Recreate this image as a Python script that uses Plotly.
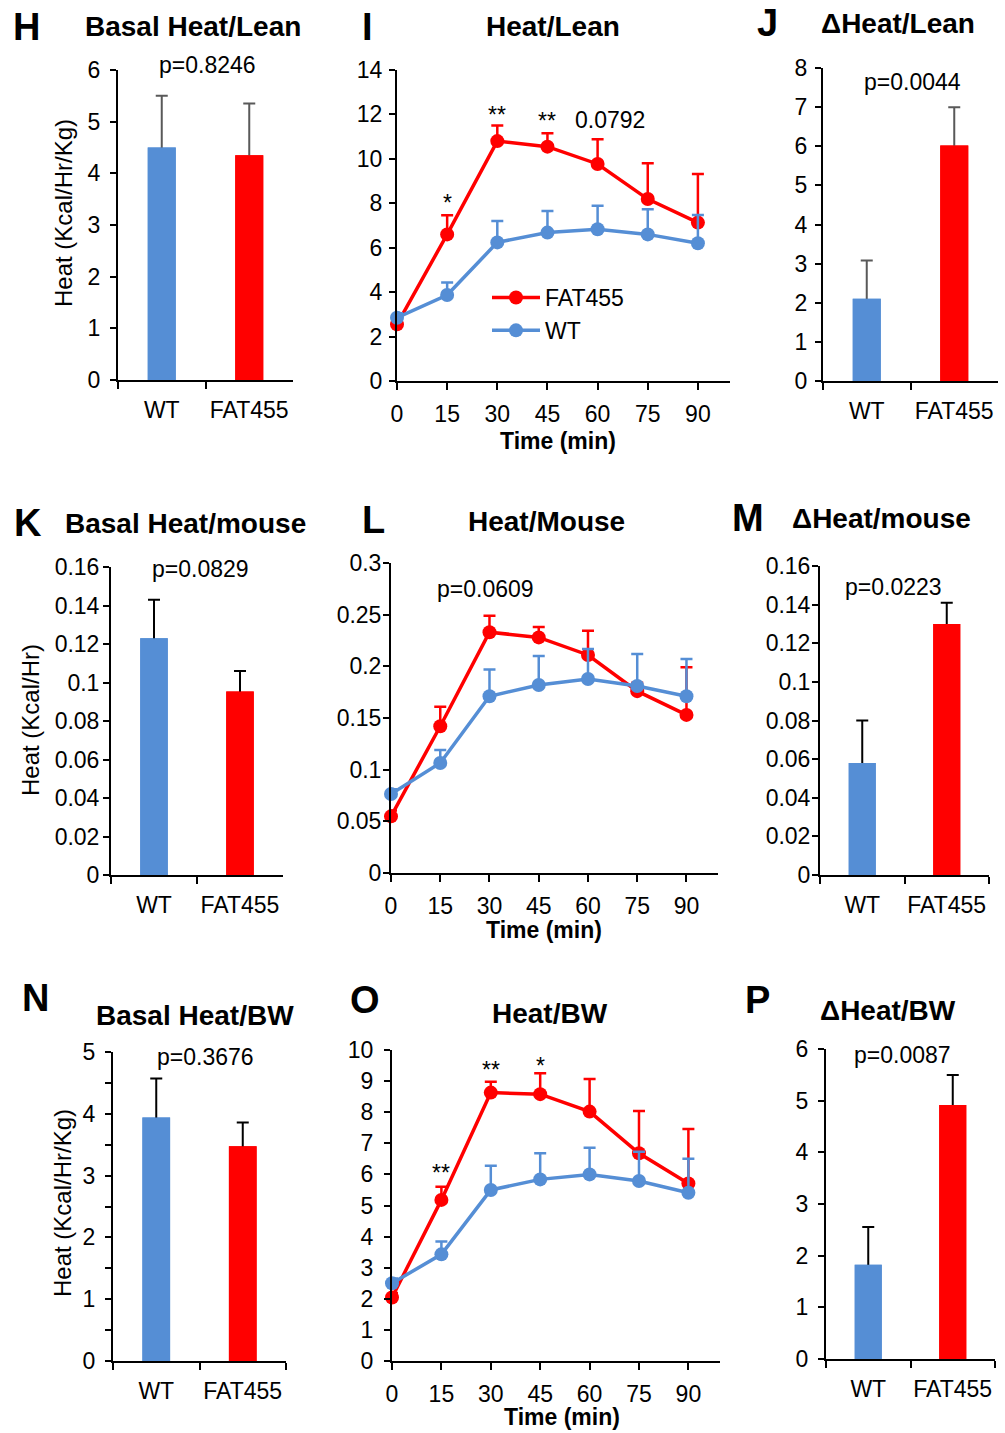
import plotly.graph_objects as go

W, H = 1005, 1433
BLUE = "#558ED5"
RED = "#FF0000"
FONT = "Liberation Sans, Arial, sans-serif"

# ---------------- data ----------------
groups = ["WT", "FAT455"]
times = [0, 15, 30, 45, 60, 75, 90]
time_labels = ["0", "15", "30", "45", "60", "75", "90"]

basal_lean_mean = [4.50, 4.35]
basal_lean_sem = [1.00, 1.00]
delta_lean_mean = [2.10, 6.02]
delta_lean_sem = [0.98, 0.98]
basal_mouse_mean = [0.123, 0.0953]
basal_mouse_sem = [0.020, 0.0107]
delta_mouse_mean = [0.058, 0.130]
delta_mouse_sem = [0.022, 0.011]
basal_bw_mean = [3.94, 3.475]
basal_bw_sem = [0.63, 0.385]
delta_bw_mean = [1.826, 4.916]
delta_bw_sem = [0.73, 0.58]

lean_fat = [2.55, 6.60, 10.80, 10.55, 9.77, 8.19, 7.13]
lean_fat_sem = [0.25, 0.86, 0.70, 0.60, 1.11, 1.61, 2.19]
lean_wt = [2.85, 3.87, 6.24, 6.68, 6.83, 6.60, 6.20]
lean_wt_sem = [0.20, 0.56, 0.96, 0.97, 1.06, 1.13, 1.27]

mouse_fat = [0.0548, 0.142, 0.233, 0.228, 0.211, 0.176, 0.153]
mouse_fat_sem = [0.0058, 0.019, 0.016, 0.010, 0.0235, 0.008, 0.046]
mouse_wt = [0.0765, 0.1065, 0.171, 0.182, 0.1877, 0.181, 0.171]
mouse_wt_sem = [0.0045, 0.0125, 0.026, 0.028, 0.029, 0.031, 0.036]

bw_fat = [2.04, 5.18, 8.63, 8.58, 8.02, 6.68, 5.71]
bw_fat_sem = [0.15, 0.42, 0.35, 0.67, 1.05, 1.36, 1.75]
bw_wt = [2.50, 3.43, 5.50, 5.84, 6.00, 5.79, 5.41]
bw_wt_sem = [0.15, 0.41, 0.78, 0.84, 0.86, 0.94, 1.09]

yt_0_6 = [0, 1, 2, 3, 4, 5, 6]
yl_0_6 = ["0", "1", "2", "3", "4", "5", "6"]
yt_0_14 = [0, 2, 4, 6, 8, 10, 12, 14]
yl_0_14 = ["0", "2", "4", "6", "8", "10", "12", "14"]
yt_0_8 = [0, 1, 2, 3, 4, 5, 6, 7, 8]
yl_0_8 = ["0", "1", "2", "3", "4", "5", "6", "7", "8"]
yt_016 = [0, 0.02, 0.04, 0.06, 0.08, 0.10, 0.12, 0.14, 0.16]
yl_016 = ["0", "0.02", "0.04", "0.06", "0.08", "0.1", "0.12", "0.14", "0.16"]
yt_03 = [0, 0.05, 0.10, 0.15, 0.20, 0.25, 0.30]
yl_03 = ["0", "0.05", "0.1", "0.15", "0.2", "0.25", "0.3"]
yt_0_5 = [0, 1, 2, 3, 4, 5]
yl_0_5 = ["0", "1", "2", "3", "4", "5"]
yt_0_10 = [0, 1, 2, 3, 4, 5, 6, 7, 8, 9, 10]
yl_0_10 = ["0", "1", "2", "3", "4", "5", "6", "7", "8", "9", "10"]

# ---------------- layout spec ----------------
panels = [
    dict(kind="bar", mean=basal_lean_mean, sem=basal_lean_sem, ecol="#595959",
         xpx=(118, 293), ypx=(70, 380), yr=[0, 6], tv=yt_0_6, tt=yl_0_6, sto=5),
    dict(kind="line", fat=lean_fat, fsem=lean_fat_sem, wt=lean_wt, wsem=lean_wt_sem,
         xpx=(397, 730), ypx=(70, 381), yr=[0, 14], tv=yt_0_14, tt=yl_0_14, sto=2, legend=True),
    dict(kind="bar", mean=delta_lean_mean, sem=delta_lean_sem, ecol="#595959",
         xpx=(823, 998), ypx=(68, 381), yr=[0, 8], tv=yt_0_8, tt=yl_0_8, sto=3),
    dict(kind="bar", mean=basal_mouse_mean, sem=basal_mouse_sem, ecol="#000000",
         xpx=(111, 283), ypx=(567, 875), yr=[0, 0.16], tv=yt_016, tt=yl_016, sto=-1),
    dict(kind="line", fat=mouse_fat, fsem=mouse_fat_sem, wt=mouse_wt, wsem=mouse_wt_sem,
         xpx=(391, 718), ypx=(563, 873), yr=[0, 0.3], tv=yt_03, tt=yl_03, sto=-3),
    dict(kind="bar", mean=delta_mouse_mean, sem=delta_mouse_sem, ecol="#000000",
         xpx=(820, 989), ypx=(566, 875), yr=[0, 0.16], tv=yt_016, tt=yl_016, sto=-3),
    dict(kind="bar", mean=basal_bw_mean, sem=basal_bw_sem, ecol="#000000",
         xpx=(113, 286), ypx=(1052, 1361), yr=[0, 5], tv=yt_0_5, tt=yl_0_5, sto=5, minor=0.5),
    dict(kind="line", fat=bw_fat, fsem=bw_fat_sem, wt=bw_wt, wsem=bw_wt_sem,
         xpx=(392, 720), ypx=(1050, 1361), yr=[0, 10], tv=yt_0_10, tt=yl_0_10, sto=6),
    dict(kind="bar", mean=delta_bw_mean, sem=delta_bw_sem, ecol="#000000",
         xpx=(826, 995), ypx=(1049, 1359), yr=[0, 6], tv=yt_0_6, tt=yl_0_6, sto=5),
]

fig = go.Figure()
layout = {}
tickfont = dict(family=FONT, size=23, color="black")

for i, p in enumerate(panels, start=1):
    sfx = "" if i == 1 else str(i)
    xref, yref = "x" + sfx, "y" + sfx
    xdom = [p["xpx"][0] / W, p["xpx"][1] / W]
    ydom = [1 - p["ypx"][1] / H, 1 - p["ypx"][0] / H]
    yax = dict(domain=ydom, anchor=xref, range=p["yr"], tickmode="array",
               tickvals=p["tv"], ticktext=p["tt"], showline=True, linecolor="black",
               linewidth=2, ticks="outside", ticklen=6, tickwidth=2, tickcolor="black",
               showgrid=False, zeroline=False, tickfont=tickfont, automargin=False,
               ticklabelstandoff=p["sto"], fixedrange=True)
    if p.get("minor"):
        yax["minor"] = dict(dtick=p["minor"], tick0=0, ticks="outside", ticklen=6,
                            tickwidth=2, tickcolor="black", showgrid=False)
    if p["kind"] == "bar":
        xax = dict(domain=xdom, anchor=yref, type="category", range=[-0.5, 1.5],
                   tickson="boundaries", ticks="outside", ticklen=7, tickwidth=2,
                   tickcolor="black", showline=True, linecolor="black", linewidth=2,
                   showgrid=False, zeroline=False, tickfont=tickfont, tickangle=0,
                   automargin=False, ticklabelstandoff=8, fixedrange=True)
        # bar carrying the SEM whisker, then the same bar on top hiding the lower half
        fig.add_trace(go.Bar(x=groups, y=p["mean"], width=0.32, marker_color=[BLUE, RED],
                             marker_line_width=0, showlegend=False, hoverinfo="skip",
                             error_y=dict(type="data", array=p["sem"], symmetric=True,
                                          color=p["ecol"], thickness=2, width=6),
                             xaxis=xref, yaxis=yref))
        fig.add_trace(go.Bar(x=groups, y=p["mean"], width=0.32, marker_color=[BLUE, RED],
                             marker_line_width=0, showlegend=False,
                             xaxis=xref, yaxis=yref))
    else:
        xax = dict(domain=xdom, anchor=yref, range=[0, 99.6], tickmode="array",
                   tickvals=times, ticktext=time_labels, ticks="outside", ticklen=7,
                   tickwidth=2, tickcolor="black", showline=True, linecolor="black",
                   linewidth=2, showgrid=False, zeroline=False, tickfont=tickfont,
                   tickangle=0, automargin=False, ticklabelstandoff=4, fixedrange=True)
        for name, ys, es, col in (("FAT455", p["fat"], p["fsem"], RED),
                                  ("WT", p["wt"], p["wsem"], BLUE)):
            fig.add_trace(go.Scatter(
                x=times, y=ys, mode="lines+markers", name=name,
                line=dict(color=col, width=3.5), marker=dict(color=col, size=14),
                error_y=dict(type="data", array=es, arrayminus=[0] * len(es),
                             symmetric=False, color=col, thickness=2.5, width=6),
                cliponaxis=False, showlegend=bool(p.get("legend")),
                xaxis=xref, yaxis=yref))
    layout["xaxis" + sfx] = xax
    layout["yaxis" + sfx] = yax


def ann(text, xp, yp, size, bold=False, angle=0):
    return dict(text=("<b>%s</b>" % text) if bold else text, x=xp / W, y=1 - yp / H,
                xref="paper", yref="paper", showarrow=False, textangle=angle,
                xanchor="center", yanchor="middle",
                font=dict(family=FONT, size=size, color="black"))


annotations = []
# panel letters
for t, x, y in (("H", 26, 27), ("I", 367, 27), ("J", 767, 23), ("K", 28, 523),
                ("L", 373, 520), ("M", 748, 518), ("N", 35, 998), ("O", 365, 1000),
                ("P", 757, 1000)):
    annotations.append(ann(t, x, y, 38, bold=True))
# panel titles
for t, x, y in (("Basal Heat/Lean", 193, 27), ("Heat/Lean", 553, 27), ("ΔHeat/Lean", 898, 23),
                ("Basal Heat/mouse", 185, 523), ("Heat/Mouse", 546, 522),
                ("ΔHeat/mouse", 881, 518), ("Basal Heat/BW", 195, 1015),
                ("Heat/BW", 550, 1013), ("ΔHeat/BW", 888, 1010)):
    annotations.append(ann(t, x, y, 28, bold=True))
# p values
for t, x, y in (("p=0.8246", 207, 65), ("p=0.0044", 912, 82), ("p=0.0829", 200, 569),
                ("p=0.0609", 485, 589), ("p=0.0223", 893, 587), ("p=0.3676", 205, 1057),
                ("p=0.0087", 902, 1055), ("0.0792", 610, 120)):
    annotations.append(ann(t, x, y, 23))
# axis titles
for t, x, y in (("Heat (Kcal/Hr/Kg)", 63, 213), ("Heat (Kcal/Hr)", 30, 720),
                ("Heat (Kcal/Hr/Kg)", 62, 1203)):
    annotations.append(ann(t, x, y, 24, angle=-90))
for x, y in ((558, 441), (544, 930), (562, 1417)):
    annotations.append(ann("Time (min)", x, y, 23, bold=True))


# significance stars anchored above FAT455 error bars
def star(text, axis_sfx, idx, fat, fsem, shift):
    return dict(text=text, x=times[idx], y=fat[idx] + fsem[idx], xref="x" + axis_sfx,
                yref="y" + axis_sfx, showarrow=False, xanchor="center", yanchor="bottom",
                yshift=shift, font=dict(family=FONT, size=23, color="black"))


annotations += [
    star("*", "2", 1, lean_fat, lean_fat_sem, -3),
    star("**", "2", 2, lean_fat, lean_fat_sem, -4),
    star("**", "2", 3, lean_fat, lean_fat_sem, -3),
    star("**", "8", 1, bw_fat, bw_fat_sem, -1),
    star("**", "8", 2, bw_fat, bw_fat_sem, -3),
    star("*", "8", 3, bw_fat, bw_fat_sem, -8),
]

fig.update_layout(
    template="none",
    width=W, height=H, margin=dict(l=0, r=0, t=0, b=0, pad=0), autosize=False,
    paper_bgcolor="white", plot_bgcolor="white", barmode="overlay",
    font=dict(family=FONT, size=23, color="black"),
    showlegend=True,
    legend=dict(x=487 / W, y=1 - 276 / H, xanchor="left", yanchor="top",
                bgcolor="rgba(0,0,0,0)", borderwidth=0,
                font=dict(family=FONT, size=23, color="black"),
                tracegroupgap=0, itemwidth=48),
    annotations=annotations,
    **layout,
)

fig.write_html("out.html", config={"displayModeBar": False},
               post_script="document.body.style.margin='0';document.body.style.overflow='hidden';")
